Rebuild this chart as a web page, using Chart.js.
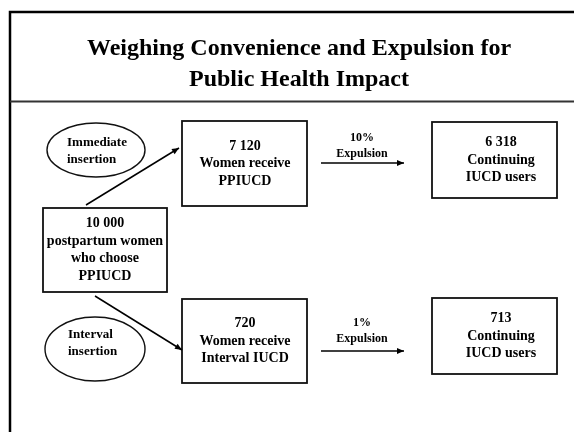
<!DOCTYPE html>
<html>
<head>
<meta charset="utf-8">
<script src="https://cdn.jsdelivr.net/npm/chart.js@4/dist/chart.umd.min.js"></script>
<style>
  html, body { margin: 0; padding: 0; background: #fff; }
  #wrap { width: 574px; height: 432px; position: relative; }
</style>
</head>
<body>
<div id="wrap"><canvas id="flow"></canvas></div>
<script>
// diagram content
const titleLines = ['Weighing Convenience and Expulsion for', 'Public Health Impact'];
const nodeValues = ['10 000', '7 120', '6 318', '720', '713'];
const nodeLabels = [
  ['postpartum women', 'who choose', 'PPIUCD'],
  ['Women receive', 'PPIUCD'],
  ['Continuing', 'IUCD users'],
  ['Women receive', 'Interval IUCD'],
  ['Continuing', 'IUCD users']
];
const routeNames = [['Immediate', 'insertion'], ['Interval', 'insertion']];
const expulsionRates = ['10%', '1%'];
const expulsionWord = 'Expulsion';

// layout, in axis units (x 0..574, y 0..432 top-down)
const boxLayout = [
  { x0: 43, y0: 208, x1: 167, y1: 292, tx: 105 },
  { x0: 182, y0: 121, x1: 307, y1: 206, tx: 245 },
  { x0: 432, y0: 122, x1: 557, y1: 198, tx: 501 },
  { x0: 182, y0: 299, x1: 307, y1: 383, tx: 245 },
  { x0: 432, y0: 298, x1: 557, y1: 374, tx: 501 }
];
const ovalLayout = [
  { cx: 96, cy: 150, rx: 49, ry: 27, tx: 67, ty: 151 },
  { cx: 95, cy: 349, rx: 50, ry: 32, tx: 68, ty: 343 }
];
const arrowLayout = [
  { x0: 86, y0: 205, x1: 179, y1: 148 },
  { x0: 95, y0: 296, x1: 182, y1: 350 },
  { x0: 321, y0: 163, x1: 404, y1: 163 },
  { x0: 321, y0: 351, x1: 404, y1: 351 }
];
const rateLayout = [{ x: 362, y: 138 }, { x: 362, y: 323 }];

const SERIF = '"Liberation Serif", "DejaVu Serif", serif';

const diagram = {
  id: 'diagram',
  beforeDatasetsDraw(chart) {
    const ctx = chart.ctx;
    const sx = chart.scales.x, sy = chart.scales.y;
    const px = v => sx.getPixelForValue(v);
    const py = v => sy.getPixelForValue(v);
    ctx.save();

    // outer frame
    ctx.strokeStyle = '#000';
    ctx.lineWidth = 2.5;
    ctx.beginPath();
    ctx.moveTo(px(10), py(432));
    ctx.lineTo(px(10), py(12));
    ctx.lineTo(px(574), py(12));
    ctx.stroke();
    ctx.strokeStyle = '#333';
    ctx.lineWidth = 2;
    ctx.beginPath();
    ctx.moveTo(px(10), py(101.5));
    ctx.lineTo(px(574), py(101.5));
    ctx.stroke();

    // title
    ctx.fillStyle = '#000';
    ctx.textAlign = 'center';
    ctx.textBaseline = 'middle';
    ctx.font = 'bold 24px ' + SERIF;
    ctx.fillText(titleLines[0], px(299), py(49));
    ctx.fillText(titleLines[1], px(299), py(80));

    // boxes
    ctx.strokeStyle = '#111';
    ctx.lineWidth = 1.8;
    ctx.font = 'bold 14px ' + SERIF;
    boxLayout.forEach((b, i) => {
      ctx.strokeRect(px(b.x0), py(b.y0), px(b.x1) - px(b.x0), py(b.y1) - py(b.y0));
      const lines = [nodeValues[i]].concat(nodeLabels[i]);
      const step = 17.5;
      const cy = (b.y0 + b.y1) / 2;
      const top = cy - step * (lines.length - 1) / 2;
      lines.forEach((t, k) => ctx.fillText(t, px(b.tx), py(top + k * step)));
    });

    // ovals
    ctx.lineWidth = 1.4;
    ctx.font = 'bold 13px ' + SERIF;
    ctx.textAlign = 'left';
    ovalLayout.forEach((o, i) => {
      ctx.beginPath();
      ctx.ellipse(px(o.cx), py(o.cy), o.rx, o.ry, 0, 0, Math.PI * 2);
      ctx.stroke();
      ctx.fillText(routeNames[i][0], px(o.tx), py(o.ty - 8.5));
      ctx.fillText(routeNames[i][1], px(o.tx), py(o.ty + 8.5));
    });

    // expulsion labels
    ctx.textAlign = 'center';
    ctx.font = 'bold 12px ' + SERIF;
    rateLayout.forEach((r, i) => {
      ctx.fillText(expulsionRates[i], px(r.x), py(r.y));
      ctx.fillText(expulsionWord, px(r.x), py(r.y + 16));
    });
    ctx.restore();
  },
  afterDatasetsDraw(chart) {
    const ctx = chart.ctx;
    ctx.save();
    ctx.fillStyle = '#000';
    chart.data.datasets.forEach(ds => {
      const pts = ds.data;
      const a = pts[0], b = pts[pts.length - 1];
      const x0 = chart.scales.x.getPixelForValue(a.x), y0 = chart.scales.y.getPixelForValue(a.y);
      const x1 = chart.scales.x.getPixelForValue(b.x), y1 = chart.scales.y.getPixelForValue(b.y);
      const ang = Math.atan2(y1 - y0, x1 - x0);
      const len = 7, half = 3;
      ctx.beginPath();
      ctx.moveTo(x1, y1);
      ctx.lineTo(x1 - len * Math.cos(ang) + half * Math.sin(ang), y1 - len * Math.sin(ang) - half * Math.cos(ang));
      ctx.lineTo(x1 - len * Math.cos(ang) - half * Math.sin(ang), y1 - len * Math.sin(ang) + half * Math.cos(ang));
      ctx.closePath();
      ctx.fill();
    });
    ctx.restore();
  }
};

new Chart(document.getElementById('flow'), {
  type: 'scatter',
  data: {
    datasets: arrowLayout.map(a => ({
      data: [{ x: a.x0, y: a.y0 }, { x: a.x1, y: a.y1 }],
      showLine: true,
      borderColor: '#000',
      borderWidth: 1.5,
      pointRadius: 0,
      pointHoverRadius: 0
    }))
  },
  options: {
    responsive: true,
    maintainAspectRatio: false,
    animation: false,
    layout: { padding: 0 },
    scales: {
      x: { type: 'linear', min: 0, max: 574, display: false },
      y: { type: 'linear', min: 0, max: 432, reverse: true, display: false }
    },
    plugins: { legend: { display: false }, tooltip: { enabled: false } },
    events: []
  },
  plugins: [diagram]
});
</script>
</body>
</html>
